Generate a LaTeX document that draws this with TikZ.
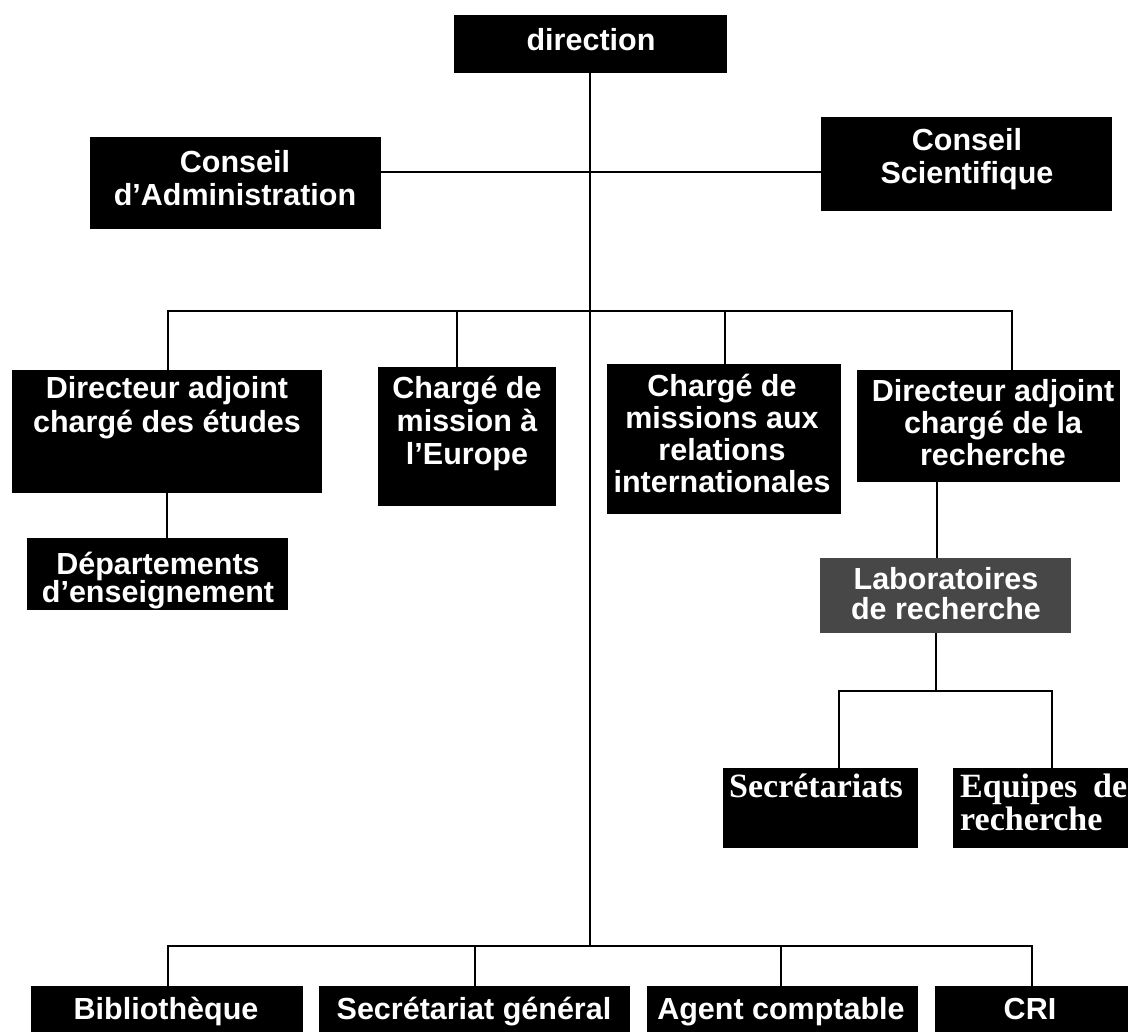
\documentclass[tikz,border=0pt]{standalone}
\usepackage{fontspec}
\setmainfont{Liberation Sans}
\newfontfamily\orgserif{Liberation Serif}
\usetikzlibrary{fit}
\lineskiplimit=-100pt
\newcommand\tstrut{\rule{0pt}{24pt}}
\newcommand\sstrut{\rule{0pt}{25pt}}
\tikzset{
  orgbox/.style={fill=black, draw=none, inner sep=0pt},
  labbox/.style={fill=black!72, draw=none, inner sep=0pt},
  orgtext/.style={text=white, inner sep=0pt, align=center, anchor=north,
    font=\bfseries\fontsize{30.5}{#1}\selectfont},
  orgtext/.default=33,
  seriftext/.style={text=white, inner sep=0pt, align=left, anchor=north,
    font=\orgserif\bfseries\fontsize{34}{33}\selectfont},
  link/.style={line width=2pt, black},
}
\begin{document}
\begin{tikzpicture}[x=1pt,y=-1pt]
\useasboundingbox (0,0) rectangle (1128,1032);
% boxes
\node[orgbox, fit={(454,15) (727,73)}] (dir) {};
\node[orgbox, fit={(90,137) (381,229)}] (admin) {};
\node[orgbox, fit={(821,117) (1112,211)}] (sci) {};
\node[orgbox, fit={(12,370) (322,493)}] (etudes) {};
\node[orgbox, fit={(378,367) (556,506)}] (europe) {};
\node[orgbox, fit={(607,364) (841,514)}] (relint) {};
\node[orgbox, fit={(857,370) (1120,482)}] (rech) {};
\node[orgbox, fit={(27,538) (288,610)}] (dept) {};
\node[labbox, fit={(820,558) (1071,633)}] (labo) {};
\node[orgbox, fit={(723,768) (918,848)}] (secr) {};
\node[orgbox, fit={(953,768) (1128,848)}] (equip) {};
\node[orgbox, fit={(31,986) (303,1032)}] (biblio) {};
\node[orgbox, fit={(319,986) (630,1032)}] (secgen) {};
\node[orgbox, fit={(647,986) (918,1032)}] (agent) {};
\node[orgbox, fit={(935,986) (1128,1032)}] (cri) {};
% texts
\node[orgtext] (dir-t) at (591,26) {\tstrut direction};
\node[orgtext] (admin-t) at (235,148) {\tstrut Conseil\\d’Administration};
\node[orgtext] (sci-t) at (967,126) {\tstrut Conseil\\Scientifique};
\node[orgtext=34] (etudes-t) at (167,374) {\tstrut Directeur adjoint\\chargé des études};
\node[orgtext] (europe-t) at (467,374) {\tstrut Chargé de\\mission à\\l’Europe};
\node[orgtext=32] (relint-t) at (722,372) {\tstrut Chargé de\\missions aux\\relations\\internationales};
\node[orgtext=32] (rech-t) at (993,377) {\tstrut Directeur adjoint\\chargé de la\\recherche};
\node[orgtext=28] (dept-t) at (158,550) {\tstrut Départements\\d’enseignement};
\node[orgtext=30] (labo-t) at (946,565) {\tstrut Laboratoires\\de recherche};
\node[seriftext, anchor=north] (secr-t) at (816,772) {\sstrut Secrétariats};
\node[seriftext, anchor=north west] (equip-t) at (960,772) {\sstrut\makebox[167pt][s]{Equipes de}\\recherche};
\node[orgtext] (biblio-t) at (166,995) {\tstrut Bibliothèque};
\node[orgtext] (secgen-t) at (474,995) {\tstrut Secrétariat général};
\node[orgtext] (agent-t) at (781,995) {\tstrut Agent comptable};
\node[orgtext] (cri-t) at (1030,995) {\tstrut CRI};
% connector coordinates
\coordinate (hC) at (590,172);
\coordinate (bus3) at (590,946);
\coordinate (d1) at (168,311);
\coordinate (d2) at (457,311);
\coordinate (d3) at (725,311);
\coordinate (d4) at (1012,311);
\coordinate (xe) at (167,500);
\coordinate (xr) at (937,500);
\coordinate (bus2) at (936,691);
\coordinate (s1) at (839,691);
\coordinate (s2) at (1052,691);
\coordinate (f1) at (168,946);
\coordinate (f2) at (475,946);
\coordinate (f3) at (781,946);
\coordinate (f4) at (1032,946);
% connectors
\draw[link] (dir.south -| hC) -- (bus3);
\draw[link] (admin.east |- hC) -- (sci.west |- hC);
\draw[link] (d1 |- etudes.north) -- (d1) -- (d4) -- (d4 |- rech.north);
\draw[link] (d2) -- (d2 |- europe.north);
\draw[link] (d3) -- (d3 |- relint.north);
\draw[link] (etudes.south -| xe) -- (dept.north -| xe);
\draw[link] (rech.south -| xr) -- (labo.north -| xr);
\draw[link] (labo.south -| bus2) -- (bus2);
\draw[link] (s1 |- secr.north) -- (s1) -- (s2) -- (s2 |- equip.north);
\draw[link] (f1 |- biblio.north) -- (f1) -- (f4) -- (f4 |- cri.north);
\draw[link] (f2) -- (f2 |- secgen.north);
\draw[link] (f3) -- (f3 |- agent.north);
\end{tikzpicture}
\end{document}
